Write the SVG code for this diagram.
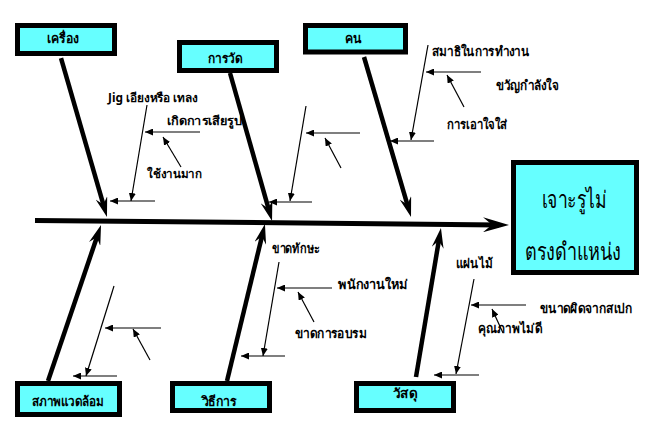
<svg xmlns="http://www.w3.org/2000/svg" width="657" height="441" viewBox="0 0 657 441">
<style>
.box{fill:#66FFFF;stroke:#000;stroke-width:5}
.bl{font-family:"Noto Sans","DejaVu Sans",sans-serif;font-size:13px;font-weight:bold;fill:#000;text-anchor:middle}
.ls{font-family:"Noto Sans","DejaVu Sans",sans-serif;font-size:12px;font-weight:bold;fill:#000}
.lt{font-family:"Noto Sans","DejaVu Sans",sans-serif;font-size:13px;font-weight:bold;fill:#000}
.ef{font-family:"Noto Sans","DejaVu Sans",sans-serif;font-size:24px;fill:#000;text-anchor:middle}
.bone{stroke:#000;stroke-width:4.5;fill:none;marker-end:url(#bh)}
.spine{stroke:#000;stroke-width:5;fill:none;marker-end:url(#sh)}
.th{stroke:#000;stroke-width:1.2;fill:none;marker-end:url(#ah)}
</style>
<defs>
<marker id="ah" viewBox="0 0 8 7" refX="8" refY="3.5" markerWidth="8" markerHeight="7" markerUnits="userSpaceOnUse" orient="auto"><path d="M0,0 L8,3.5 L0,7 Z" fill="#000"/></marker>
<marker id="bh" viewBox="0 0 20 12" refX="10" refY="6" markerWidth="20" markerHeight="12" markerUnits="userSpaceOnUse" orient="auto"><path d="M0,0 L20,6 L0,12 L7,6 Z" fill="#000"/></marker>
<marker id="sh" viewBox="0 0 26 15" refX="16" refY="7.5" markerWidth="26" markerHeight="15" markerUnits="userSpaceOnUse" orient="auto"><path d="M0,0 L26,7.5 L0,15 L9,7.5 Z" fill="#000"/></marker>
</defs>
<g id="connectors">
<line class="spine" x1="35" y1="220.5" x2="499" y2="224.9"/>
<line class="bone" x1="61" y1="58" x2="104.2" y2="207.4"/>
<line class="bone" x1="230" y1="73" x2="269.3" y2="211.4"/>
<line class="bone" x1="364" y1="57" x2="408.2" y2="207.4"/>
<line class="bone" x1="48" y1="381" x2="97.8" y2="234.5"/>
<line class="bone" x1="227" y1="381" x2="262.6" y2="233.7"/>
<line class="bone" x1="416" y1="377" x2="439.3" y2="237.9"/>
<line class="th" x1="147" y1="105" x2="131" y2="201"/>
<line class="th" x1="155" y1="201" x2="110" y2="201"/>
<line class="th" x1="200" y1="132" x2="145" y2="132"/>
<line class="th" x1="181" y1="167" x2="163" y2="137"/>
<line class="th" x1="306" y1="106" x2="290" y2="201"/>
<line class="th" x1="312" y1="202" x2="269" y2="202"/>
<line class="th" x1="360" y1="133" x2="306" y2="133"/>
<line class="th" x1="341" y1="168" x2="325" y2="138"/>
<line class="th" x1="428" y1="45" x2="411" y2="140"/>
<line class="th" x1="434" y1="141" x2="390" y2="141"/>
<line class="th" x1="481" y1="72" x2="426" y2="72"/>
<line class="th" x1="464" y1="107" x2="447" y2="75"/>
<line class="th" x1="114" y1="286" x2="86" y2="376"/>
<line class="th" x1="161" y1="328" x2="105" y2="328"/>
<line class="th" x1="117" y1="376" x2="73" y2="376"/>
<line class="th" x1="150" y1="360" x2="133" y2="329"/>
<line class="th" x1="279" y1="262" x2="263" y2="356"/>
<line class="th" x1="332" y1="288" x2="277" y2="288"/>
<line class="th" x1="285" y1="356" x2="241" y2="356"/>
<line class="th" x1="314" y1="322" x2="298" y2="292"/>
<line class="th" x1="474" y1="279" x2="456" y2="374"/>
<line class="th" x1="526" y1="305" x2="471" y2="305"/>
<line class="th" x1="479" y1="375" x2="434" y2="375"/>
<line class="th" x1="503" y1="333" x2="492" y2="309"/>
</g>
<g id="n-machine"><rect class="box" x="17.5" y="25.5" width="97" height="28"/><text class="bl" x="63" y="43" textLength="32" lengthAdjust="spacingAndGlyphs">เครื่อง</text></g>
<g id="n-measure"><rect class="box" x="179.5" y="42.5" width="97" height="28"/><text class="bl" x="225" y="63" textLength="34" lengthAdjust="spacingAndGlyphs">การวัด</text></g>
<g id="n-man"><rect class="box" x="305.5" y="25.5" width="100" height="26.5"/><text class="bl" x="353" y="43" textLength="17" lengthAdjust="spacingAndGlyphs">คน</text></g>
<g id="n-env"><rect class="box" x="17.5" y="383.5" width="102" height="31"/><text class="bl" x="68" y="406" textLength="73" lengthAdjust="spacingAndGlyphs">สภาพแวดล้อม</text></g>
<g id="n-method"><rect class="box" x="172.5" y="383.5" width="97" height="27"/><text class="bl" x="219" y="406" textLength="35" lengthAdjust="spacingAndGlyphs">วิธีการ</text></g>
<g id="n-material"><rect class="box" x="356.5" y="383.5" width="97" height="27"/><text class="bl" x="405" y="398" textLength="24" lengthAdjust="spacingAndGlyphs">วัสดุ</text></g>
<g id="n-effect"><rect class="box" x="513.5" y="162.5" width="123" height="110"/><text class="ef" x="574" y="208" textLength="65" lengthAdjust="spacingAndGlyphs">เจาะรูไม่</text><text class="ef" x="573" y="260" textLength="97" lengthAdjust="spacingAndGlyphs">ตรงดำแหน่ง</text></g>
<g id="labels">
<text class="ls" x="108" y="102" textLength="90" lengthAdjust="spacingAndGlyphs">Jig เอียงหรือ เทลง</text>
<text class="ls" x="167" y="125" textLength="75" lengthAdjust="spacingAndGlyphs">เกิดการเสียรูป</text>
<text class="ls" x="147" y="178" textLength="55" lengthAdjust="spacingAndGlyphs">ใช้งานมาก</text>
<text class="lt" x="432" y="56" textLength="97" lengthAdjust="spacingAndGlyphs">สมาธิในการทำงาน</text>
<text class="lt" x="496" y="90" textLength="63" lengthAdjust="spacingAndGlyphs">ขวัญกำลังใจ</text>
<text class="lt" x="447" y="129" textLength="60" lengthAdjust="spacingAndGlyphs">การเอาใจใส่</text>
<text class="lt" x="272" y="253" textLength="48" lengthAdjust="spacingAndGlyphs">ขาดทักษะ</text>
<text class="lt" x="338" y="289" textLength="70" lengthAdjust="spacingAndGlyphs">พนักงานใหม่</text>
<text class="lt" x="295" y="338" textLength="72" lengthAdjust="spacingAndGlyphs">ขาดการอบรม</text>
<text class="lt" x="456" y="268" textLength="37" lengthAdjust="spacingAndGlyphs">แผ่นไม้</text>
<text class="lt" x="540" y="313" textLength="92" lengthAdjust="spacingAndGlyphs">ขนาดผิดจากสเปก</text>
<text class="lt" x="478" y="333" textLength="64" lengthAdjust="spacingAndGlyphs">คุณภาพไม่ดี</text>
</g>
</svg>
